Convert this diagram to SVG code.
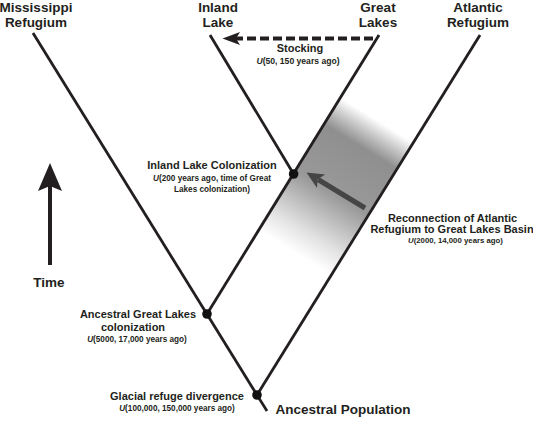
<svg xmlns="http://www.w3.org/2000/svg" width="533" height="422" viewBox="0 0 533 422">
<defs>
<linearGradient id="band" gradientUnits="userSpaceOnUse" x1="331.2" y1="275.1" x2="413.2" y2="142.5">
<stop offset="0" stop-color="#ffffff"/>
<stop offset="0.15" stop-color="#e2e2e2"/>
<stop offset="0.45" stop-color="#999999"/>
<stop offset="0.8" stop-color="#8f8f8f"/>
<stop offset="0.9" stop-color="#c4c4c4"/>
<stop offset="1" stop-color="#ffffff"/>
</linearGradient>
</defs>
<style>
text{font-family:"Liberation Sans",Arial,sans-serif;font-weight:bold;fill:#231f20;text-anchor:middle}
.h{font-size:13.5px}
.m{font-size:11px}
.s{font-size:8.2px}
.br{fill:none;stroke:#231f20;stroke-width:2.8;stroke-linecap:butt}
.dot{fill:#111}
</style>
<rect width="533" height="422" fill="#ffffff"/>
<g id="reconnection-band">
<polygon points="258.9,230.3 331.2,275.1 413.2,142.5 340.9,97.7" fill="url(#band)"/>
</g>
<g id="connectors">
<line class="br" x1="33" y1="33" x2="257" y2="395"/>
<line class="br" x1="257" y1="395" x2="480" y2="35"/>
<line class="br" x1="257" y1="395" x2="267" y2="411"/>
<line class="br" x1="207" y1="314" x2="379" y2="35"/>
<line class="br" x1="293.6" y1="174" x2="210" y2="35"/>
<line x1="373" y1="38.5" x2="236" y2="38.5" stroke="#231f20" stroke-width="4" stroke-dasharray="9 4"/>
<polygon points="222.5,38.5 240,32 236,38.5 240,45" fill="#231f20"/>
<line x1="365" y1="208" x2="318" y2="179.5" stroke="#454545" stroke-width="5"/>
<polygon points="306.5,172.5 325.2,174.5 317.6,179.2 317,188.1" fill="#454545"/>
</g>
<g id="time-arrow">
<line x1="50" y1="265" x2="50" y2="186" stroke="#231f20" stroke-width="4"/>
<polygon points="50,163 62,191 50,186 38,191" fill="#231f20"/>
<text class="h" x="49" y="287">Time</text>
</g>
<g id="mississippi">
<text class="h" x="36" y="12">Mississippi</text>
<text class="h" x="36" y="27">Refugium</text>
</g>
<g id="inland-lake">
<text class="h" x="218" y="12">Inland</text>
<text class="h" x="218" y="27">Lake</text>
</g>
<g id="great-lakes">
<text class="h" x="378" y="12">Great</text>
<text class="h" x="378" y="27">Lakes</text>
</g>
<g id="atlantic">
<text class="h" x="478" y="12">Atlantic</text>
<text class="h" x="478" y="27">Refugium</text>
</g>
<g id="stocking">
<text class="m" x="300" y="52">Stocking</text>
<text class="s" x="298" y="63.5" style="font-size:8.6px"><tspan font-style="italic">U</tspan>(50, 150 years ago)</text>
</g>
<g id="inland-colonization">
<circle class="dot" cx="293.6" cy="174" r="4.8"/>
<text class="m" x="212" y="169">Inland Lake Colonization</text>
<text class="s" x="212" y="180.5"><tspan font-style="italic">U</tspan>(200 years ago, time of Great</text>
<text class="s" x="212" y="192">Lakes colonization)</text>
</g>
<g id="reconnection">
<text class="m" x="452.5" y="221.7">Reconnection of Atlantic</text>
<text class="m" x="452" y="233.3">Refugium to Great Lakes Basin</text>
<text class="s" x="455.5" y="243.3" style="font-size:7.8px"><tspan font-style="italic">U</tspan>(2000, 14,000 years ago)</text>
</g>
<g id="ancestral-great-lakes">
<circle class="dot" cx="207" cy="314" r="4.8"/>
<text class="m" x="138" y="318.3">Ancestral Great Lakes</text>
<text class="m" x="133" y="330.7">colonization</text>
<text class="s" x="137" y="342.3"><tspan font-style="italic">U</tspan>(5000, 17,000 years ago)</text>
</g>
<g id="glacial-divergence">
<circle class="dot" cx="257" cy="395" r="4.8"/>
<text class="m" x="177" y="400">Glacial refuge divergence</text>
<text class="s" x="177" y="410.7"><tspan font-style="italic">U</tspan>(100,000, 150,000 years ago)</text>
</g>
<g id="ancestral-population">
<text class="h" x="343" y="414.3">Ancestral Population</text>
</g>
</svg>
